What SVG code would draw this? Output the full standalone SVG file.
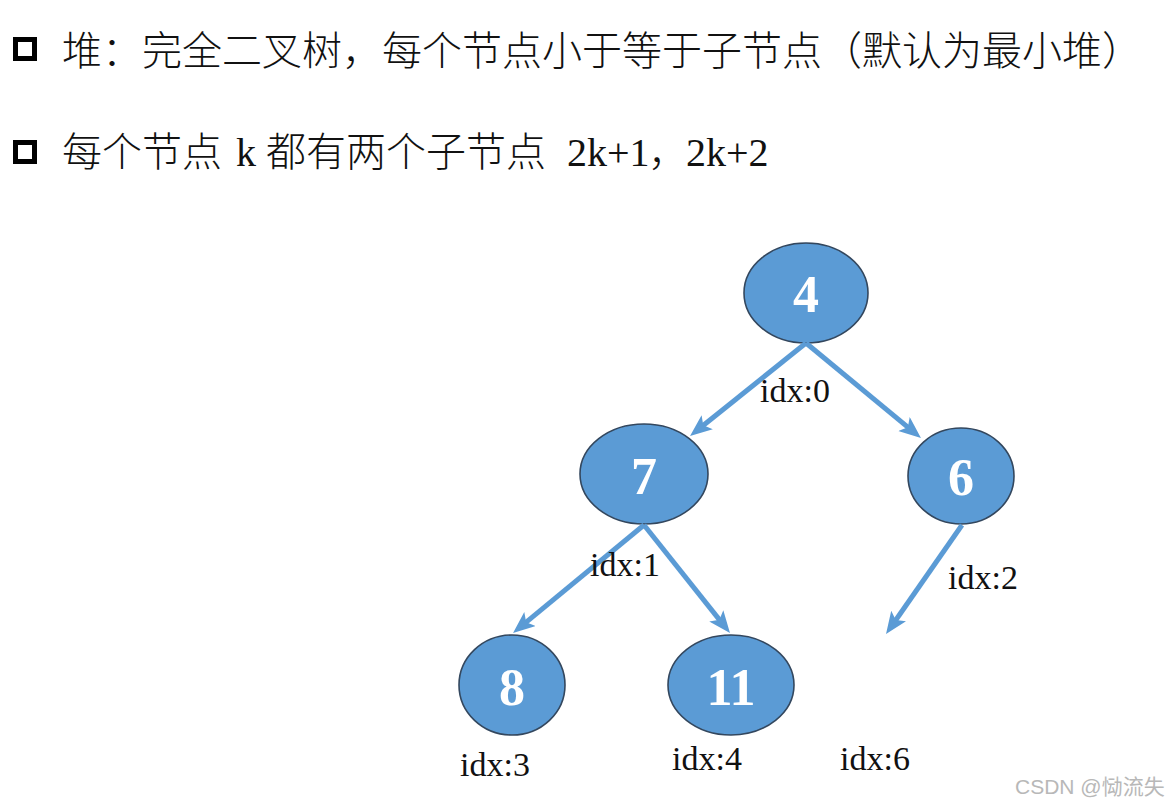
<svg xmlns="http://www.w3.org/2000/svg" width="1170" height="805" viewBox="0 0 1170 805">
<style>
.hdr{font-family:"Liberation Serif","Noto Sans CJK SC",serif;font-size:40px;font-weight:300;fill:#111}
.bul{fill:none;stroke:#000;stroke-width:5}
.node ellipse{fill:#5B9BD5;stroke:#33475e;stroke-width:1.6}
.num{font-family:"Liberation Serif",serif;font-weight:bold;font-size:52px;fill:#fff;text-anchor:middle}
.lbl{font-family:"Liberation Serif",serif;font-size:34px;fill:#111}
.edge{stroke:#5B9BD5;stroke-width:5;fill:none;marker-end:url(#ah)}
.wm{font-family:"Liberation Sans","Noto Sans CJK SC",sans-serif;font-size:21px;fill:#b8b8b8}
</style>
<defs>
<marker id="ah" markerUnits="userSpaceOnUse" markerWidth="24" markerHeight="20" refX="10" refY="9" orient="auto">
<path d="M0,0 L22,9 L0,18 L5,9 z" fill="#5B9BD5"/>
</marker>
</defs>
<rect width="1170" height="805" fill="#fff"/>
<g id="header">
<rect class="bul" x="15.5" y="39.5" width="19" height="19"/>
<text class="hdr" x="62" y="65">堆：完全二叉树，每个节点小于等于子节点（默认为最小堆）</text>
<rect class="bul" x="15.5" y="142.5" width="19" height="19"/>
<text class="hdr" y="166"><tspan x="62">每个节点</tspan><tspan x="236">k</tspan><tspan x="266">都有两个子节点</tspan><tspan x="567">2k+1</tspan><tspan x="648">，</tspan><tspan x="686">2k+2</tspan></text>
</g>
<g id="n4" class="node"><ellipse cx="806" cy="293" rx="62" ry="50"/><text class="num" x="806" y="312">4</text></g>
<g id="n7" class="node"><ellipse cx="644" cy="474" rx="64" ry="50"/><text class="num" x="644" y="494">7</text></g>
<g id="n6" class="node"><ellipse cx="961" cy="476" rx="53" ry="48"/><text class="num" x="961" y="495">6</text></g>
<g id="n8" class="node"><ellipse cx="512" cy="685" rx="53" ry="50"/><text class="num" x="512" y="705">8</text></g>
<g id="n11" class="node"><ellipse cx="731" cy="685" rx="63" ry="50"/><text class="num" x="731" y="705">11</text></g>
<g id="connectors">
<line class="edge" x1="806" y1="343" x2="699.4" y2="428.5"/>
<line class="edge" x1="806" y1="343" x2="911.7" y2="430.4"/>
<line class="edge" x1="644" y1="525" x2="522.3" y2="625.4"/>
<line class="edge" x1="644" y1="525" x2="722.5" y2="623.6"/>
<line class="edge" x1="962" y1="525" x2="892.9" y2="624.2"/>
</g>
<g id="labels">
<text class="lbl" x="760" y="402">idx:0</text>
<text class="lbl" x="590" y="576">idx:1</text>
<text class="lbl" x="948" y="589">idx:2</text>
<text class="lbl" x="460" y="776">idx:3</text>
<text class="lbl" x="672" y="770">idx:4</text>
<text class="lbl" x="840" y="770">idx:6</text>
</g>
<text class="wm" x="1015" y="794">CSDN @恸流失</text>
</svg>
